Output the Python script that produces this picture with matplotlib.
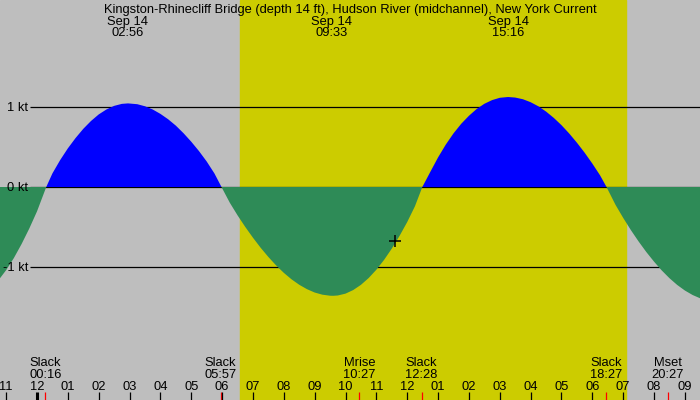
import numpy as np
import matplotlib
matplotlib.use('Agg')
import matplotlib.pyplot as plt
import matplotlib.transforms as mtransforms

# hora del dia (horas desde medianoche del 14 sep) y corriente en nudos
horas = [-1.5, -1.25, -1.0, -0.75, -0.5, -0.25, 0.0, 0.30,
         0.5, 0.75, 1.0, 1.25, 1.5, 1.75, 2.0, 2.25, 2.5, 2.75, 2.95,
         3.25, 3.5, 3.75, 4.0, 4.25, 4.5, 4.75, 5.0, 5.25, 5.5, 5.75, 5.98,
         6.25, 6.5, 6.75, 7.0, 7.25, 7.5, 7.75, 8.0, 8.25, 8.5, 8.75, 9.0, 9.25, 9.5, 9.6,
         9.75, 10.0, 10.25, 10.5, 10.75, 11.0, 11.25, 11.5, 11.75, 12.0, 12.25, 12.49,
         12.75, 13.0, 13.25, 13.5, 13.75, 14.0, 14.25, 14.5, 14.75, 15.0, 15.27,
         15.5, 15.75, 16.0, 16.25, 16.5, 16.75, 17.0, 17.25, 17.5, 17.75, 18.0, 18.25, 18.46,
         18.75, 19.0, 19.25, 19.5, 19.75, 20.0, 20.25, 20.5, 20.75, 21.0, 21.25, 21.5, 21.75, 22.0]
nudos = [-1.267, -1.166, -1.039, -0.888, -0.713, -0.519, -0.305, 0.0,
         0.170, 0.336, 0.483, 0.612, 0.727, 0.825, 0.907, 0.969, 1.014, 1.039, 1.045,
         1.035, 1.009, 0.969, 0.914, 0.847, 0.767, 0.672, 0.566, 0.449, 0.319, 0.170, 0.0,
         -0.197, -0.354, -0.499, -0.634, -0.760, -0.875, -0.980, -1.073, -1.154, -1.222,
         -1.277, -1.319, -1.346, -1.359, -1.36,
         -1.356, -1.333, -1.288, -1.223, -1.138, -1.034, -0.911, -0.770, -0.612, -0.438, -0.241, 0.0,
         0.19, 0.37, 0.53, 0.67, 0.79, 0.89, 0.975, 1.04, 1.086, 1.115, 1.125,
         1.118, 1.097, 1.060, 1.009, 0.943, 0.864, 0.773, 0.669, 0.554, 0.429, 0.293, 0.146, 0.0,
         -0.222, -0.386, -0.539, -0.681, -0.813, -0.933, -1.043, -1.140, -1.224, -1.294,
         -1.350, -1.392, -1.418, -1.430]

titulo = 'Kingston-Rhinecliff Bridge (depth 14 ft), Hudson River (midchannel), New York Current'

# maximos arriba
max_horas = [2.933, 9.55, 15.267]
max_textos = ['02:56', '09:33', '15:16']
fecha = 'Sep 14'

# eventos abajo
ev_nombres = ['Slack', 'Slack', 'Mrise', 'Slack', 'Slack', 'Mset']
ev_textos = ['00:16', '05:57', '10:27', '12:28', '18:27', '20:27']
ev_horas = [0.267, 5.95, 10.45, 12.467, 18.45, 20.45]

amanecer = 6.58
atardecer = 19.09
niveles = [1, 0, -1]
ahora = (11.6, -0.68)

fuente = ['Liberation Sans', 'DejaVu Sans']
plt.rcParams['font.family'] = fuente
tam = 9.3

x = np.array(horas)
y = np.array(nudos)

fig = plt.figure(figsize=(7, 4), dpi=100)
ax = fig.add_axes([0, 0, 1, 1])
ax.set_xlim(-1.1994, 21.49)
ax.set_ylim(-2.6625, 2.3375)
ax.axis('off')
ax.add_patch(plt.Rectangle((0, 0), 1, 1, transform=ax.transAxes, color='#bebebe', zorder=0))

ax.axvspan(amanecer, atardecer, color='#cccc00', zorder=1)

# y en pixeles desde arriba
def fy(pix):
    return 1 - pix / 400.0

tr = mtransforms.blended_transform_factory(ax.transData, ax.transAxes)

for n in niveles:
    ax.hlines(n, -0.227, 21.49, color='black', lw=0.9, zorder=2)
    base = 187 - 80 * n + 4
    ax.text(-0.29, fy(base), format(n) + ' kt', transform=tr, ha='right', va='baseline',
            fontsize=tam, zorder=5)

ax.fill_between(x, y, 0, where=y >= 0, interpolate=True, color='#0000ff', lw=0, zorder=3)
ax.fill_between(x, y, 0, where=y <= 0, interpolate=True, color='#2e8b57', lw=0, zorder=3)

ax.plot([ahora[0]], [ahora[1]], marker='+', color='black', markersize=9, mew=1.1, zorder=6)

ax.text(10.16, fy(13), titulo, transform=tr, ha='center', va='baseline', fontsize=tam)
for h, t in zip(max_horas, max_textos):
    ax.text(h, fy(24.5), fecha, transform=tr, ha='center', va='baseline', fontsize=tam)
    ax.text(h, fy(36), t, transform=tr, ha='center', va='baseline', fontsize=tam)

for h, nom, t in zip(ev_horas, ev_nombres, ev_textos):
    ax.text(h, fy(366.5), nom, transform=tr, ha='center', va='baseline', fontsize=tam)
    ax.text(h, fy(377.5), t, transform=tr, ha='center', va='baseline', fontsize=tam)
    ax.vlines(h, fy(400), fy(392), transform=tr, color='red', lw=0.9, zorder=6)

for h in range(-1, 22):
    etiqueta = '%02d' % (h % 12 if h % 12 != 0 else 12)
    ax.text(h, fy(390), etiqueta, transform=tr, ha='center', va='baseline', fontsize=tam)
    ancho = 2.2 if h == 0 else 0.9
    ax.vlines(h, fy(400), fy(392), transform=tr, color='black', lw=ancho, zorder=6)

plt.savefig('out.png', dpi=100)
plt.close()
